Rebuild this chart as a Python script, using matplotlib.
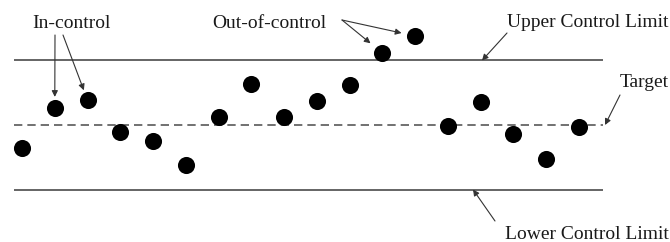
import matplotlib
matplotlib.use("Agg")
import matplotlib.pyplot as plt
import numpy as np

# ---- data ----
sample_index = list(range(1, 19))
measurements = [-1.07, 0.79, 1.16, -0.33, -0.74, -1.86, 0.37, 1.91, 0.37,
                1.12, 1.86, 3.35, 4.14, -0.05, 1.07, -0.42, -1.58, -0.09]
target = 0.0
ucl = 3.0
lcl = -3.0
labels = ["In-control", "Out-of-control", "Upper Control Limit", "Target", "Lower Control Limit"]

W, H = 670, 242
fig = plt.figure(figsize=(W / 100, H / 100), dpi=100)
ax = fig.add_axes([0, 0, 1, 1])
ax.set_axis_off()

# scale: index 1 at px 22, spacing 32.76 px; value 0 at py 125, 21.5 px / unit
sx, x0 = 32.76, 22
sy, y0 = 21.5, 125
ax.set_xlim(1 - x0 / sx, 1 + (W - x0) / sx)
ax.set_ylim((y0 - H) / sy, y0 / sy)

def px2ax(px, py):
    return (px / W, 1 - py / H)

xl0 = 1 + (14 - x0) / sx
xl1 = 1 + (603 - x0) / sx
plt.rcParams['lines.scale_dashes'] = False
ax.plot([xl0, xl1], [ucl, ucl], color="#3a3a3a", lw=1.1, solid_capstyle="butt")
ax.plot([xl0, xl1], [lcl, lcl], color="#3a3a3a", lw=1.1, solid_capstyle="butt")
ax.plot([xl0, xl1], [target, target], color="#666666", lw=1.3, dashes=(6, 3.6))

ax.plot(sample_index, measurements, "o", color="black", markersize=12.3,
        markeredgewidth=0, zorder=5)

font = dict(family="Liberation Serif", fontsize=14, color="#1a1a1a")
aprops = dict(arrowstyle="-|>", lw=0.8, color="#333333", mutation_scale=9,
              shrinkA=0)

# text labels
ax.text(*px2ax(32, 28), labels[0], transform=ax.transAxes, va="baseline", ha="left", **font)
ax.text(*px2ax(212, 28), labels[1], transform=ax.transAxes, va="baseline", ha="left", **font)
ax.text(*px2ax(507, 27), labels[2], transform=ax.transAxes, va="baseline", ha="left", **font)
ax.text(*px2ax(620, 87), labels[3], transform=ax.transAxes, va="baseline", ha="left", **font)
ax.text(*px2ax(505, 239), labels[4], transform=ax.transAxes, va="baseline", ha="left", **font)

# arrows
ax.annotate("", xy=(sample_index[1], measurements[1]), xycoords="data",
            xytext=px2ax(55, 35), textcoords="axes fraction",
            arrowprops=dict(aprops, shrinkB=8))
ax.annotate("", xy=(sample_index[2], measurements[2]), xycoords="data",
            xytext=px2ax(63, 35), textcoords="axes fraction",
            arrowprops=dict(aprops, shrinkB=7.5))
ax.annotate("", xy=(sample_index[11], measurements[11]), xycoords="data",
            xytext=px2ax(342, 20), textcoords="axes fraction",
            arrowprops=dict(aprops, shrinkB=11))
ax.annotate("", xy=(sample_index[12], measurements[12]), xycoords="data",
            xytext=px2ax(342, 20), textcoords="axes fraction",
            arrowprops=dict(aprops, shrinkB=10))
ax.annotate("", xy=(1 + (482 - x0) / sx, ucl), xycoords="data",
            xytext=px2ax(507, 33), textcoords="axes fraction",
            arrowprops=dict(aprops, shrinkB=0))
ax.annotate("", xy=(1 + (605 - x0) / sx, target), xycoords="data",
            xytext=px2ax(620, 95), textcoords="axes fraction",
            arrowprops=dict(aprops, shrinkB=0))
ax.annotate("", xy=(1 + (473 - x0) / sx, lcl), xycoords="data",
            xytext=px2ax(495, 221), textcoords="axes fraction",
            arrowprops=dict(aprops, shrinkB=0))

fig.savefig("out.png", dpi=100)
